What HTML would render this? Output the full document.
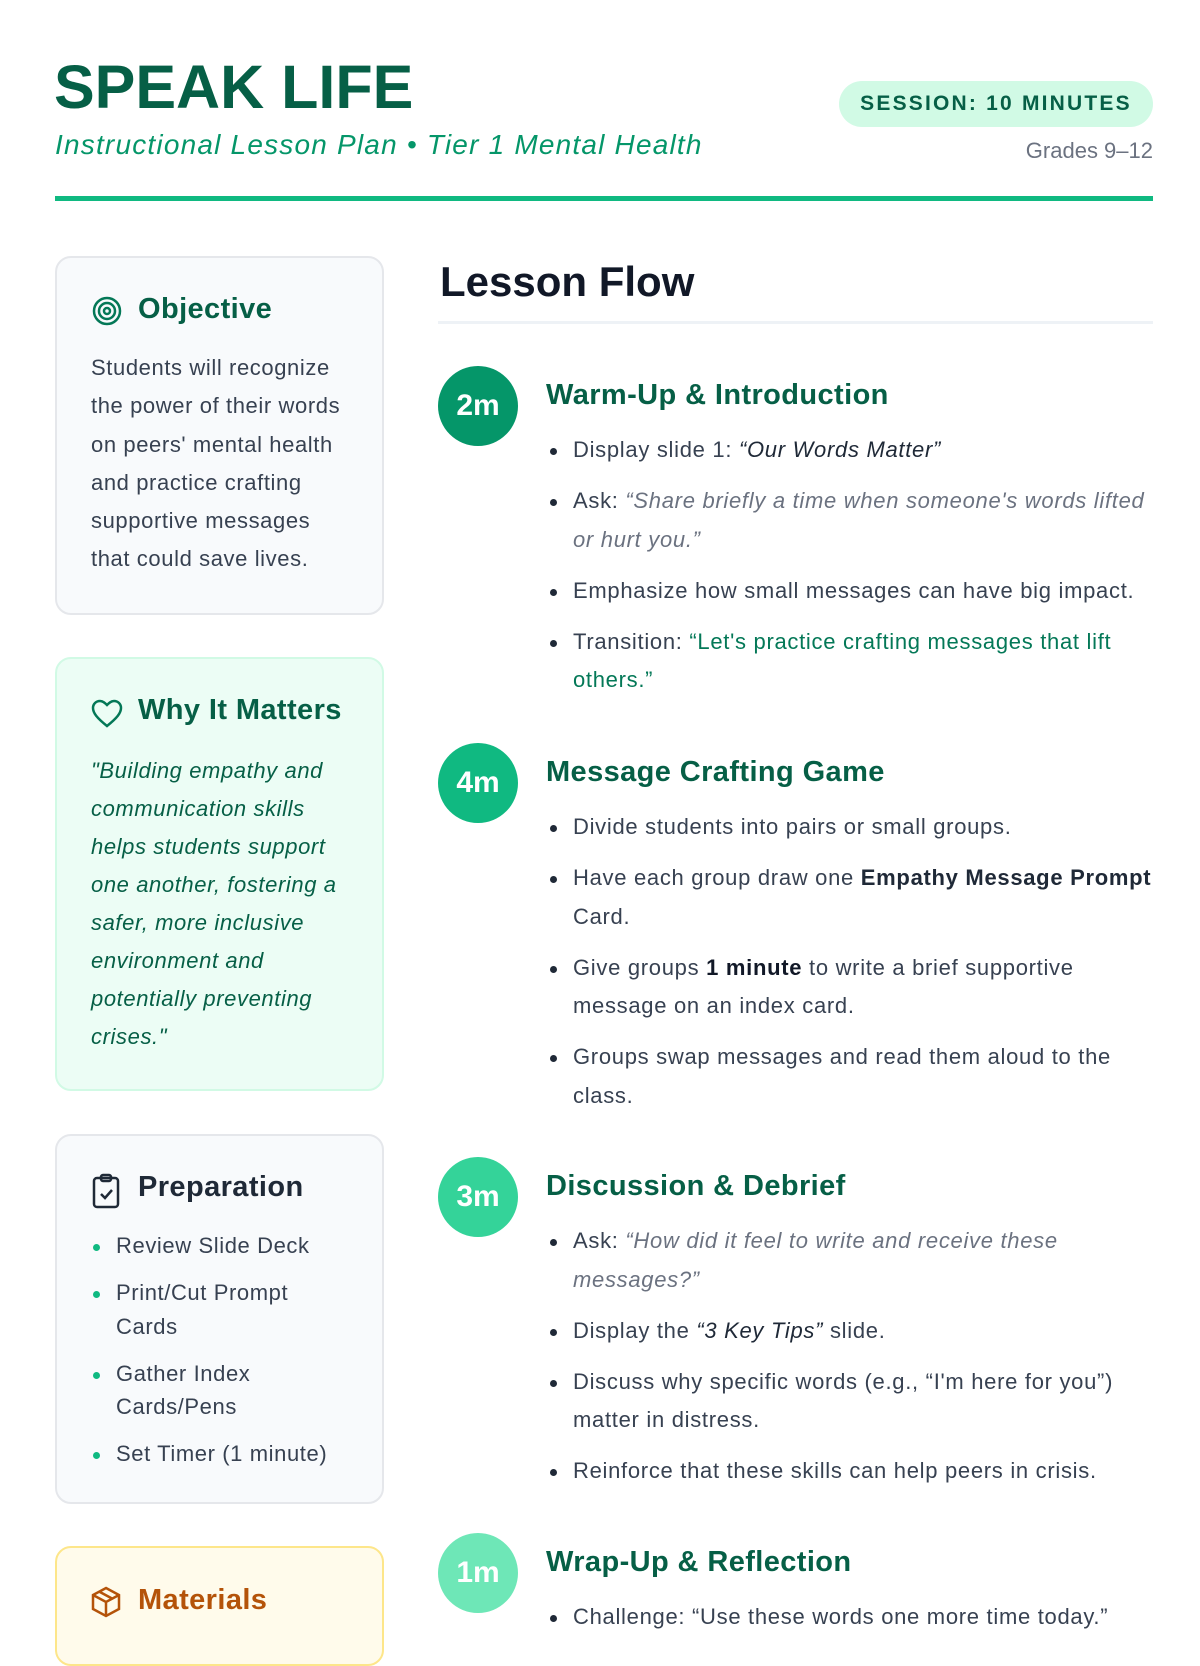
<!DOCTYPE html>
<html><head><meta charset="utf-8"><style>
*{margin:0;padding:0;box-sizing:border-box}
body{width:1200px;height:1600px;overflow:hidden;background:#fff;font-family:"Liberation Sans",sans-serif;position:relative;color:#374151}
.abs{position:absolute}
h1{position:absolute;left:54px;top:52px;font-size:61px;font-weight:bold;color:#065f46;letter-spacing:0px}
.sub{left:55px;top:129px;font-size:28px;font-style:italic;color:#059669;letter-spacing:1.2px;white-space:nowrap}
.pill{left:839px;top:81px;width:314px;height:46px;border-radius:23px;background:#d1fae5;color:#065f46;font-weight:bold;font-size:21px;letter-spacing:2.2px;text-align:center;line-height:46px}
.grades{right:47px;top:138px;font-size:22px;color:#6b7280}
.rule{left:55px;top:196px;width:1098px;height:5px;background:#10b981}
.card{position:absolute;left:55px;width:329px;border-radius:16px;border:2px solid #e5e7eb;background:#f8fafc;padding:0 30px 0 34px}
.card h3{position:absolute;left:81px;font-size:29px;font-weight:bold;color:#065f46;letter-spacing:0.4px;white-space:nowrap}
.card .ic{position:absolute;left:34px}
.ctext{position:absolute;left:34px;font-size:22px;letter-spacing:0.6px;line-height:38.3px;color:#374151;white-space:nowrap}
.flowh{left:440px;top:258px;font-size:42px;font-weight:bold;color:#111827}
.div{left:438px;top:321px;width:715px;height:3px;background:#eef2f6}
.sec{position:absolute;left:438px;width:715px}
.circ{position:absolute;left:0;top:0;width:80px;height:80px;border-radius:40px;color:#fff;font-weight:bold;font-size:30px;text-align:center;line-height:80px}
.sec h2{position:absolute;left:108px;top:13px;font-size:29px;font-weight:bold;color:#065f46;white-space:nowrap;letter-spacing:0.4px}
.sec ul{position:absolute;left:112px;top:65px;list-style:none}
.sec li{position:relative;padding-left:23px;font-size:22px;letter-spacing:0.7px;line-height:38.5px;margin-bottom:12.5px;white-space:nowrap}
.sec li:before{content:"";position:absolute;left:0;top:17px;width:7px;height:7px;border-radius:4px;background:#1f2937}
.q{font-style:italic;color:#6b7280}
.qd{font-style:italic;color:#1f2937}
.qg{color:#047857}
.pl li{position:relative;padding-left:25px;font-size:22px;letter-spacing:0.6px;line-height:33.5px;margin-bottom:13.5px;white-space:nowrap;list-style:none}
.pl li:before{content:"";position:absolute;left:2px;top:15px;width:7px;height:7px;border-radius:4px;background:#10b981}
</style></head><body>
<h1>SPEAK LIFE</h1>
<div class="abs sub">Instructional Lesson Plan • Tier 1 Mental Health</div>
<div class="abs pill">SESSION: 10 MINUTES</div>
<div class="abs grades">Grades 9–12</div>
<div class="abs rule"></div>

<div class="card" style="top:256px;height:359px">
<svg class="ic" style="top:37px" width="32" height="32" viewBox="0 0 32 32"><g fill="none" stroke="#047857" stroke-width="2.5"><circle cx="16" cy="16" r="13"/><circle cx="16" cy="16" r="8"/><circle cx="16" cy="16" r="3"/></g></svg>
<h3 style="top:35px">Objective</h3>
<div class="ctext" style="top:91px">Students will recognize<br>the power of their words<br>on peers' mental health<br>and practice crafting<br>supportive messages<br>that could save lives.</div>
</div>

<div class="card" style="top:657px;height:434px;background:#ecfdf5;border-color:#d1fae5">
<svg class="ic" style="top:40px" width="32" height="30" viewBox="0 0 32 30"><path d="M16 27 C6 19 2 14 2 9 C2 5 5 2 9 2 C12 2 14 4 16 6 C18 4 20 2 23 2 C27 2 30 5 30 9 C30 14 26 19 16 27Z" fill="none" stroke="#047857" stroke-width="2.5"/></svg>
<h3 style="top:35px">Why It Matters</h3>
<div class="ctext" style="top:93px;font-style:italic;color:#065f46;line-height:38px">"Building empathy and<br>communication skills<br>helps students support<br>one another, fostering a<br>safer, more inclusive<br>environment and<br>potentially preventing<br>crises."</div>
</div>

<div class="card" style="top:1134px;height:370px">
<svg class="ic" style="top:37px" width="30" height="36" viewBox="0 0 30 36"><g fill="none" stroke="#1f2937" stroke-width="2.5"><rect x="3" y="5" width="24" height="29" rx="3"/><rect x="10" y="2" width="10" height="6" rx="2"/><path d="M10 21 l4 4 l7 -8"/></g></svg>
<h3 style="top:35px;color:#1f2937">Preparation</h3>
<ul class="pl abs" style="left:34px;top:93px">
<li>Review Slide Deck</li>
<li>Print/Cut Prompt<br>Cards</li>
<li>Gather Index<br>Cards/Pens</li>
<li>Set Timer (1 minute)</li>
</ul>
</div>

<div class="card" style="top:1546px;height:120px;background:#fffbeb;border-color:#fde68a">
<svg class="ic" style="top:38px" width="30" height="32" viewBox="0 0 30 32"><g fill="none" stroke="#b45309" stroke-width="2.5"><path d="M15 2 L28 9 L28 23 L15 30 L2 23 L2 9Z"/><path d="M2 9 L15 16 L28 9 M15 16 V30 M8 5.5 L21 12.5"/></g></svg>
<h3 style="top:36px;color:#b45309">Materials</h3>
</div>

<div class="abs flowh">Lesson Flow</div>
<div class="abs div"></div>

<div class="sec" style="top:366px">
<div class="circ" style="background:#059669">2m</div>
<h2>Warm-Up &amp; Introduction</h2>
<ul>
<li>Display slide 1: <span class="qd">“Our Words Matter”</span></li>
<li>Ask: <span class="q">“Share briefly a time when someone's words lifted<br>or hurt you.”</span></li>
<li>Emphasize how small messages can have big impact.</li>
<li>Transition: <span class="qg">“Let's practice crafting messages that lift<br>others.”</span></li>
</ul>
</div>

<div class="sec" style="top:743px">
<div class="circ" style="background:#10b981">4m</div>
<h2>Message Crafting Game</h2>
<ul>
<li>Divide students into pairs or small groups.</li>
<li>Have each group draw one <b style="color:#1f2937">Empathy Message Prompt</b><br>Card.</li>
<li>Give groups <b style="color:#111827">1 minute</b> to write a brief supportive<br>message on an index card.</li>
<li>Groups swap messages and read them aloud to the<br>class.</li>
</ul>
</div>

<div class="sec" style="top:1157px">
<div class="circ" style="background:#34d399">3m</div>
<h2>Discussion &amp; Debrief</h2>
<ul>
<li>Ask: <span class="q">“How did it feel to write and receive these<br>messages?”</span></li>
<li>Display the <span class="qd">“3 Key Tips”</span> slide.</li>
<li>Discuss why specific words (e.g., “I'm here for you”)<br>matter in distress.</li>
<li>Reinforce that these skills can help peers in crisis.</li>
</ul>
</div>

<div class="sec" style="top:1533px">
<div class="circ" style="background:#6ee7b7">1m</div>
<h2>Wrap-Up &amp; Reflection</h2>
<ul>
<li>Challenge: “Use these words one more time today.”</li>
</ul>
</div>
</body></html>
